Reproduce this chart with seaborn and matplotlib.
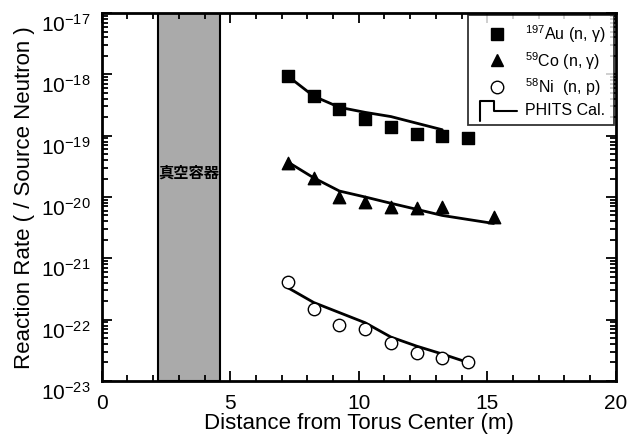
import numpy as np
import pandas as pd
import matplotlib
matplotlib.use("Agg")
import matplotlib.pyplot as plt
import seaborn as sns
from matplotlib.lines import Line2D
from matplotlib.legend_handler import HandlerBase
from matplotlib.ticker import LogLocator, MultipleLocator, NullFormatter, FixedLocator

# ---------------- DATA ----------------
dist_exp = [7.25, 8.25, 9.25, 10.25, 11.25, 12.25, 13.25, 14.25]
au_exp = [9.3e-19, 4.4e-19, 2.7e-19, 1.9e-19, 1.4e-19, 1.05e-19, 1.0e-19, 0.9e-19]
dist_co = [7.25, 8.25, 9.25, 10.25, 11.25, 12.25, 13.25, 15.25]
co_exp = [3.6e-20, 2.05e-20, 1.0e-20, 8.3e-21, 6.9e-21, 6.6e-21, 6.9e-21, 4.7e-21]
ni_exp = [4.1e-22, 1.5e-22, 8.3e-23, 6.9e-23, 4.2e-23, 2.9e-23, 2.4e-23, 2.0e-23]

dist_au_cal = [7.25, 8.25, 9.25, 10.25, 11.25, 12.25, 13.25]
au_cal = [9.3e-19, 4.4e-19, 2.9e-19, 2.4e-19, 2.05e-19, 1.6e-19, 1.25e-19]
dist_co_cal = [7.25, 8.25, 9.25, 10.25, 11.25, 12.25, 13.25, 14.25, 15.25]
co_cal = [3.7e-20, 2.05e-20, 1.25e-20, 1.0e-20, 7.9e-21, 6.3e-21, 5.0e-21, 4.3e-21, 3.7e-21]
dist_ni_cal = [7.25, 8.25, 9.25, 10.25, 11.25, 12.25, 13.25, 14.25]
ni_cal = [3.3e-22, 1.9e-22, 1.3e-22, 8.9e-23, 5.2e-23, 3.7e-23, 2.75e-23, 2.0e-23]

y_ticks = [1e-23, 1e-22, 1e-21, 1e-20, 1e-19, 1e-18, 1e-17]

vessel_range = [2.2, 4.6]
vessel_label = "真空容器"

labels = ["$^{197}$Au (n, γ)", "$^{59}$Co (n, γ)", "$^{58}$Ni  (n, p)", "PHITS Cal."]

# ---------------- STYLE ----------------
sns.set_style("ticks", {"axes.edgecolor": "black", "text.color": "black",
                        "xtick.color": "black", "ytick.color": "black",
                        "axes.labelcolor": "black"})
plt.rcParams["font.family"] = ["Liberation Sans", "DejaVu Sans"]
plt.rcParams["mathtext.default"] = "regular"

fig = plt.figure(figsize=(6.4, 4.39), dpi=100)
ax = fig.add_axes([0.159, 0.130, 0.803, 0.838])

exp_df = pd.concat([
    pd.DataFrame({"dist": dist_exp, "rate": au_exp, "set": "Au"}),
    pd.DataFrame({"dist": dist_co, "rate": co_exp, "set": "Co"}),
    pd.DataFrame({"dist": dist_exp, "rate": ni_exp, "set": "Ni"}),
])
cal_df = pd.concat([
    pd.DataFrame({"dist": dist_au_cal, "rate": au_cal, "set": "Au"}),
    pd.DataFrame({"dist": dist_co_cal, "rate": co_cal, "set": "Co"}),
    pd.DataFrame({"dist": dist_ni_cal, "rate": ni_cal, "set": "Ni"}),
])

# vacuum vessel band
ax.axvspan(vessel_range[0], vessel_range[1], facecolor="#aaaaaa",
           edgecolor="black", lw=1.5, zorder=0)
ax.text(np.mean(vessel_range), 2.6e-20, vessel_label, ha="center", va="center",
        fontsize=11, fontweight="bold", color="black",
        family=["Noto Sans CJK JP", "DejaVu Sans"])

# calculation lines
for name in ["Au", "Co", "Ni"]:
    sns.lineplot(data=cal_df[cal_df["set"] == name], x="dist", y="rate",
                 color="black", lw=2, ax=ax, legend=False, zorder=2)

# measured points
styles = {"Au": ("s", "black"), "Co": ("^", "black"), "Ni": ("o", "white")}
for name, (mk, fc) in styles.items():
    sns.scatterplot(data=exp_df[exp_df["set"] == name], x="dist", y="rate",
                    marker=mk, s=80, facecolor=fc, edgecolor="black",
                    linewidth=1.0, ax=ax, legend=False, zorder=3)

ax.set_yscale("log")
ax.set_xlim(0, 20)
ax.set_ylim(1e-23, 1e-17)
ax.xaxis.set_major_locator(MultipleLocator(5))
ax.xaxis.set_minor_locator(MultipleLocator(1))
ax.yaxis.set_major_locator(FixedLocator(y_ticks))
ax.yaxis.set_minor_locator(LogLocator(base=10, subs=np.arange(2, 10), numticks=100))
ax.yaxis.set_minor_formatter(NullFormatter())
ax.tick_params(which="both", direction="in", top=True, right=True, width=1.3,
               labelsize=15)
ax.tick_params(which="major", length=7)
ax.tick_params(which="minor", length=4)
ax.tick_params(axis="x", pad=9)
ax.tick_params(axis="y", pad=8)
for sp in ax.spines.values():
    sp.set_linewidth(2)
    sp.set_color("black")
ax.set_xlabel("Distance from Torus Center (m)", fontsize=16, labelpad=0)
ax.set_ylabel("Reaction Rate ( / Source Neutron )", fontsize=16, labelpad=4)


# step-shaped legend key for the PHITS calculation
class StepHandler(HandlerBase):
    def create_artists(self, legend, orig_handle, xdescent, ydescent,
                       width, height, fontsize, trans):
        xs = [0.1, 0.1, 0.45, 0.45, 1.0]
        ys = [-0.6, 1.2, 1.2, 0.3, 0.3]
        line = Line2D([x * width - xdescent for x in xs],
                      [y * height - ydescent for y in ys],
                      color="black", lw=1.5, transform=trans)
        return [line]


handles = [
    Line2D([], [], ls="", marker="s", ms=9, mfc="black", mec="black"),
    Line2D([], [], ls="", marker="^", ms=9, mfc="black", mec="black"),
    Line2D([], [], ls="", marker="o", ms=9, mfc="white", mec="black"),
    Line2D([], [], color="black"),
]
leg = ax.legend(handles, labels, loc="upper right", fontsize=11.5,
                handler_map={handles[3]: StepHandler()},
                frameon=True, fancybox=False, edgecolor="black",
                borderaxespad=0.1, handlelength=2.6, handletextpad=0.5,
                labelspacing=0.3, borderpad=0.5)
leg.get_frame().set_linewidth(1.3)
for t in leg.get_texts():
    t.set_color("black")

# tick labels in the original sit slightly below their ticks
fig.canvas.draw()
plt.setp(ax.get_yticklabels(), va="top")

fig.savefig("out.png", dpi=100)
